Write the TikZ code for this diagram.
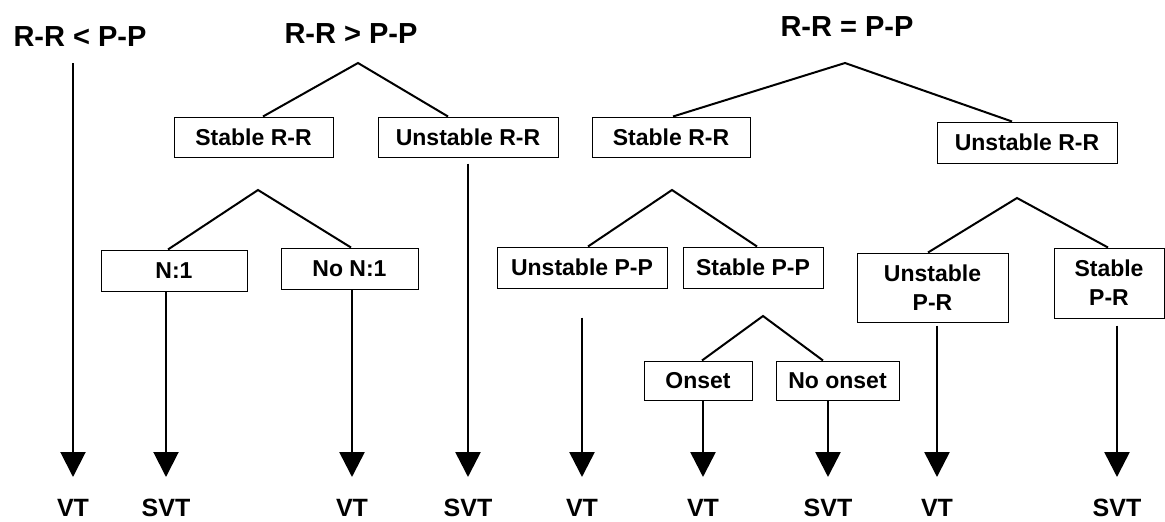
\documentclass[tikz,border=0pt]{standalone}
\usepackage{fontspec}
\setmainfont{Liberation Sans}
\usetikzlibrary{arrows.meta}
\begin{document}
\begin{tikzpicture}[x=1pt,y=-1pt,
  box/.style={draw,line width=1pt,inner sep=0pt,align=center,font=\fontsize{23}{27}\selectfont\bfseries},
  ttl/.style={inner sep=0pt,font=\fontsize{29}{32}\selectfont\bfseries},
  lab/.style={inner sep=0pt,anchor=base,font=\fontsize{25}{28}\selectfont\bfseries},
  branch/.style={line width=2pt,line join=miter},
  arr/.style={line width=2.6pt,-{Triangle[length=25pt,width=25pt]}},
  arrthin/.style={line width=2pt,-{Triangle[length=25pt,width=25pt]}}]
\useasboundingbox[fill=white] (0,0) rectangle (1165,522);
% titles
\node[ttl] (t1) at (80,37) {R-R < P-P};
\node[ttl] (t2) at (351,34) {R-R > P-P};
\node[ttl] (t3) at (847,27) {R-R = P-P};
% apex coordinates
\coordinate (s1) at (73,63);
\coordinate (a2) at (358,63);
\coordinate (a21) at (258,190);
\coordinate (a3) at (845,63);
\coordinate (a31) at (672,190);
\coordinate (a311) at (763,316);
\coordinate (a32) at (1017,198);
% boxes
\node[box,minimum width=159pt,minimum height=40pt] (b21) at (253.5,137) {Stable R-R};
\node[box,minimum width=180pt,minimum height=40pt] (b22) at (468,137) {Unstable R-R};
\node[box,minimum width=146pt,minimum height=41pt] (n1) at (174,270.5) {N:1};
\node[box,minimum width=137pt,minimum height=41pt] (non1) at (349.5,268.5) {No N:1};
\node[box,minimum width=158pt,minimum height=40pt] (b31) at (671,137) {Stable R-R};
\node[box,minimum width=180pt,minimum height=41pt] (b32) at (1027,142.5) {Unstable R-R};
\node[box,minimum width=170pt,minimum height=41pt] (upp) at (582,267.5) {Unstable P-P};
\node[box,minimum width=140pt,minimum height=41pt] (spp) at (753,267.5) {Stable P-P};
\node[box,minimum width=108pt,minimum height=39pt] (on) at (698,380.5) {Onset};
\node[box,minimum width=123pt,minimum height=39pt] (noon) at (837.5,380.5) {No onset};
\node[box,minimum width=151pt,minimum height=69pt] (upr) at (932.5,287.5) {Unstable\\[2pt]P-R};
\node[box,minimum width=110pt,minimum height=70pt] (spr) at (1109,283) {Stable\\[2pt]P-R};
% branches
\draw[branch] ([xshift=9.5pt]b21.north) -- (a2) -- ([xshift=-20pt]b22.north);
\draw[branch] ([xshift=-6pt]n1.north) -- (a21) -- ([xshift=1.5pt]non1.north);
\draw[branch] ([xshift=2pt]b31.north) -- (a3) -- ([xshift=-15pt]b32.north);
\draw[branch] ([xshift=6pt]upp.north) -- (a31) -- ([xshift=4pt]spp.north);
\draw[branch] ([xshift=4pt]on.north) -- (a311) -- ([xshift=-14.5pt]noon.north);
\draw[branch] ([xshift=-4.5pt]upr.north) -- (a32) -- ([xshift=-1pt]spr.north);
% outcome labels
\node[lab] (v1) at (73,516) {VT};
\node[lab] (v2) at (166,516) {SVT};
\node[lab] (v3) at (352,516) {VT};
\node[lab] (v4) at (468,516) {SVT};
\node[lab] (v5) at (582,516) {VT};
\node[lab] (v6) at (703,516) {VT};
\node[lab] (v7) at (828,516) {SVT};
\node[lab] (v8) at (937,516) {VT};
\node[lab] (v9) at (1117,516) {SVT};
% arrows
\draw[arrthin] (s1) -- ([yshift=39pt]v1.base);
\draw[arrthin] ([xshift=-8pt]n1.south) -- ([yshift=39pt]v2.base);
\draw[arr] ([xshift=2.5pt]non1.south) -- ([yshift=39pt]v3.base);
\draw[arr] ([yshift=-6pt]b22.south) -- ([yshift=39pt]v4.base);
\draw[arr] ([yshift=-29pt]upp.south) -- ([yshift=39pt]v5.base);
\draw[arr] ([xshift=5pt]on.south) -- ([yshift=39pt]v6.base);
\draw[arr] ([xshift=-9.5pt]noon.south) -- ([yshift=39pt]v7.base);
\draw[arr] ([xshift=4.5pt,yshift=-3pt]upr.south) -- ([yshift=39pt]v8.base);
\draw[arr] ([xshift=8pt,yshift=-7pt]spr.south) -- ([yshift=39pt]v9.base);
\end{tikzpicture}
\end{document}
